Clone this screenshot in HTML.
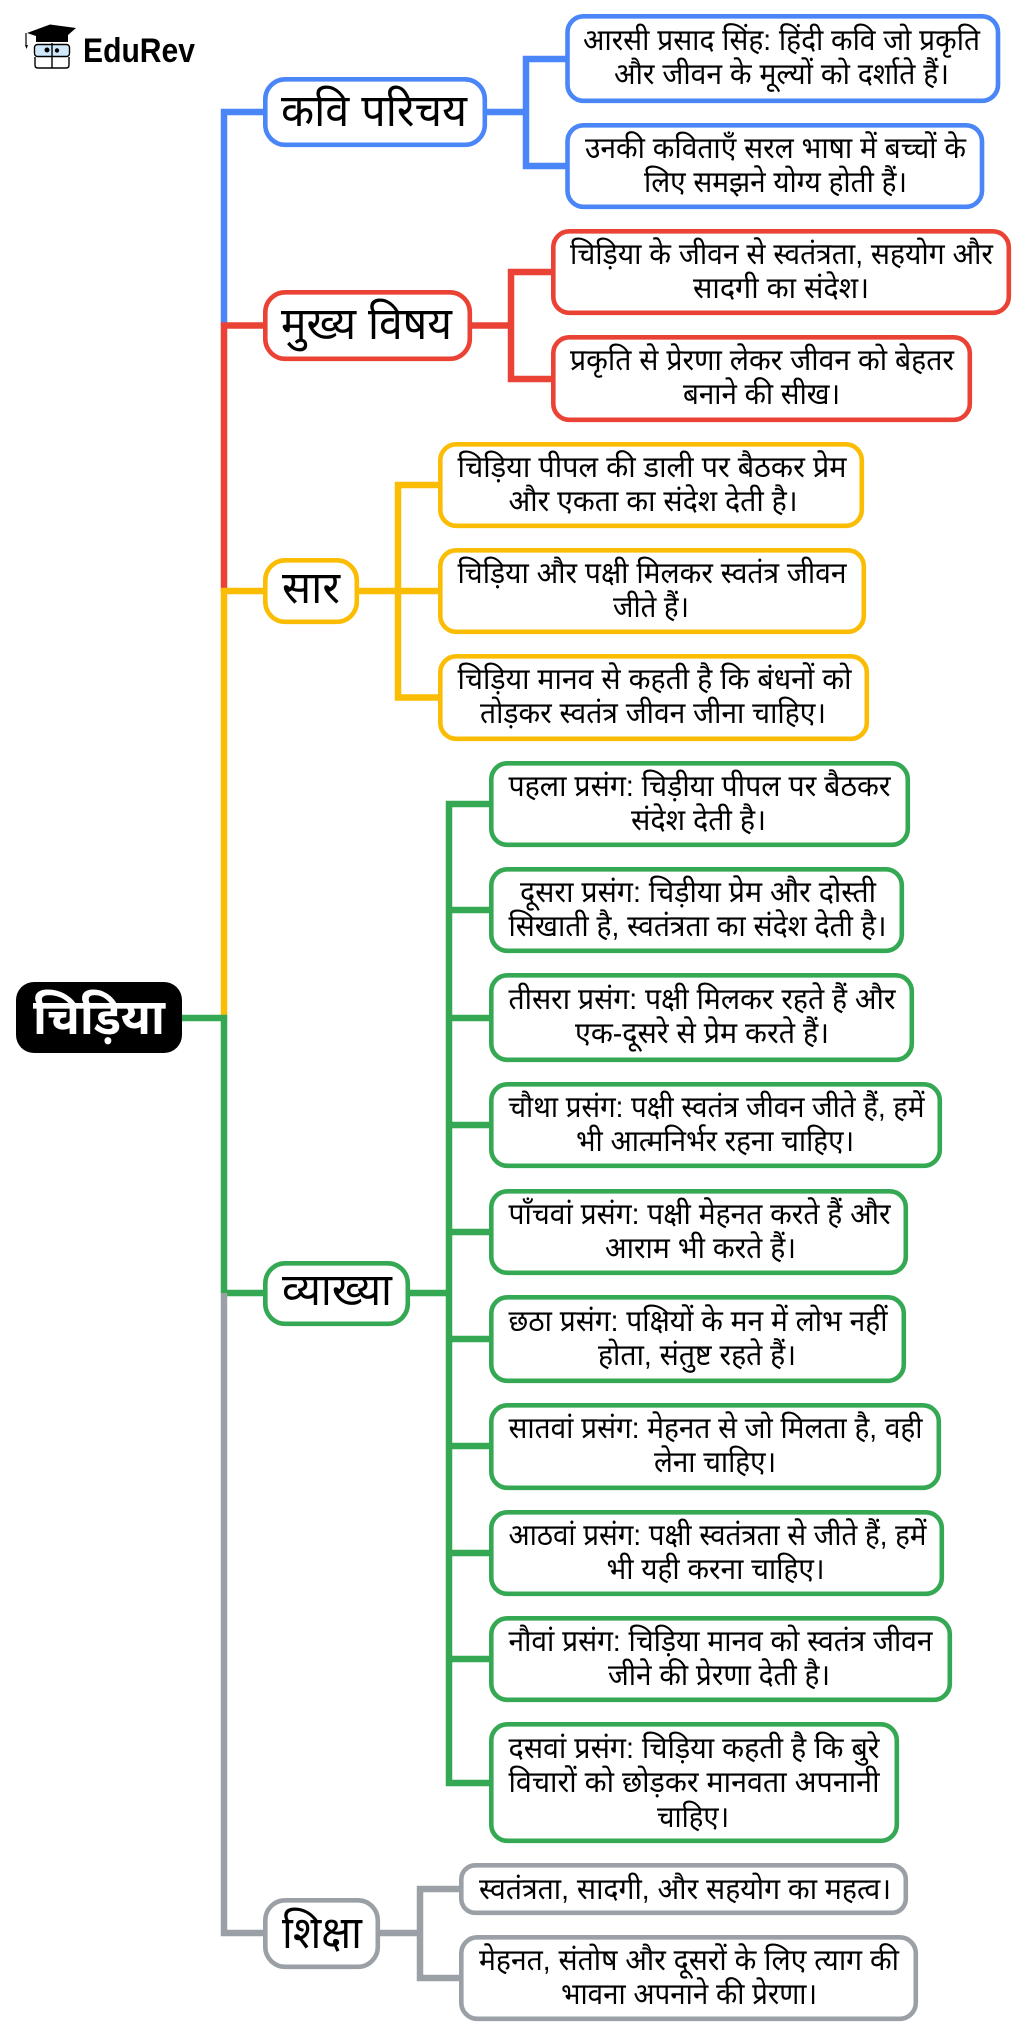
<!DOCTYPE html>
<html><head><meta charset="utf-8"><style>
html,body{margin:0;padding:0;background:#fff;width:1024px;height:2035px;overflow:hidden}
svg{display:block}
text{font-family:"Liberation Sans","Noto Sans Devanagari","Lohit Devanagari","FreeSans","DejaVu Sans",sans-serif;fill:#000}
.l{font-size:30px}
.b{font-size:45px}
rect{fill:#fff;stroke-width:4.600}
path{fill:none;stroke-width:6.5;stroke-linejoin:miter}
</style></head><body>
<svg xmlns="http://www.w3.org/2000/svg" width="1024" height="2035" viewBox="0 0 1024 2035">
<!-- logo -->
<g>
<path d="M26 33 V45" stroke="#000" style="stroke-width:1.2"/>
<polygon points="25,45 28,45 26.500,49" fill="#000"/>
<polygon points="27,33 50,24.500 76,28 68,35 68,42 36,42 36,36" fill="#000"/>
<rect x="34.500" y="44.500" width="35" height="12" rx="3" style="fill:#cfe8fb;stroke:#000;stroke-width:1.4"/>
<path d="M35 57 V65 Q35 68 38 68 H52 V43 M69 57 V65 Q69 68 66 68 H52" stroke="#000" style="stroke-width:1.4"/>
<circle cx="47" cy="50" r="2.500" fill="#000"/><circle cx="57" cy="50.500" r="2.200" fill="#000"/>
<text x="83" y="62" font-size="34" font-weight="700" textLength="112" lengthAdjust="spacingAndGlyphs">EduRev</text>
</g>
<!-- trunk -->
<path d="M263 112 H224 V326" stroke="#4a86f7"/>
<path d="M263 325.500 H224 V592" stroke="#ea4335"/>
<path d="M263 591 H224 V1018" stroke="#fbbc04"/>
<path d="M182 1018 H224 V1293 M224 1293 H263" stroke="#34a853"/>
<path d="M263 1933 H224 V1293" stroke="#9aa0a6"/>
<!-- blue -->
<path d="M486 112 H526 M566 59 H526 V166 H566" stroke="#4a86f7"/>
<!-- red -->
<path d="M472 325.500 H511 M551 272 H511 V379 H551" stroke="#ea4335"/>
<!-- yellow -->
<path d="M359 591 H438 M438 485 H398 V697.500 H438" stroke="#fbbc04"/>
<!-- green -->
<path d="M410 1293 H449 M489 804 H449 V1783 H489 M449 910 H489 M449 1018 H489 M449 1125 H489 M449 1232 H489 M449 1339 H489 M449 1446 H489 M449 1553 H489 M449 1659 H489" stroke="#34a853"/>
<!-- gray -->
<path d="M380 1933 H420 M459 1889 H420 V1978 H459" stroke="#9aa0a6"/>

<!-- root -->
<rect x="16" y="982" width="166" height="71" rx="18" style="fill:#000;stroke:none"/>
<text x="33" y="1034" font-size="50" font-weight="700" textLength="132" lengthAdjust="spacingAndGlyphs" style="fill:#fff">चिड़िया</text>

<!-- branches -->
<g stroke="#4a86f7">
<rect x="265.300" y="79.300" width="219.500" height="65.500" rx="20"/>
<rect x="567.500" y="16.300" width="430.500" height="84.500" rx="16"/>
<rect x="567.500" y="125.300" width="414.500" height="81.500" rx="16"/>
</g>
<text class="b" x="281" y="126" textLength="186" lengthAdjust="spacingAndGlyphs">कवि परिचय</text>
<text class="l" x="583" y="50" textLength="397" lengthAdjust="spacingAndGlyphs">आरसी प्रसाद सिंह: हिंदी कवि जो प्रकृति</text>
<text class="l" x="614" y="84" textLength="335" lengthAdjust="spacingAndGlyphs">और जीवन के मूल्यों को दर्शाते हैं।</text>
<text class="l" x="585" y="158" textLength="381" lengthAdjust="spacingAndGlyphs">उनकी कविताएँ सरल भाषा में बच्चों के</text>
<text class="l" x="644" y="192" textLength="263" lengthAdjust="spacingAndGlyphs">लिए समझने योग्य होती हैं।</text>

<g stroke="#ea4335">
<rect x="265.300" y="292.300" width="204.500" height="66.500" rx="20"/>
<rect x="553.300" y="231.300" width="455.500" height="81.500" rx="16"/>
<rect x="553.300" y="337.300" width="416.500" height="82.500" rx="16"/>
</g>
<text class="b" x="281" y="339" textLength="171" lengthAdjust="spacingAndGlyphs">मुख्य विषय</text>
<text class="l" x="570" y="264" textLength="423" lengthAdjust="spacingAndGlyphs">चिड़िया के जीवन से स्वतंत्रता, सहयोग और</text>
<text class="l" x="693" y="298" textLength="176" lengthAdjust="spacingAndGlyphs">सादगी का संदेश।</text>
<text class="l" x="570" y="370" textLength="384" lengthAdjust="spacingAndGlyphs">प्रकृति से प्रेरणा लेकर जीवन को बेहतर</text>
<text class="l" x="683" y="404" textLength="157" lengthAdjust="spacingAndGlyphs">बनाने की सीख।</text>

<g stroke="#fbbc04">
<rect x="265.300" y="560.300" width="91.500" height="61.500" rx="20"/>
<rect x="440.300" y="444.300" width="421.500" height="81.500" rx="16"/>
<rect x="440.300" y="550.300" width="423.500" height="81.500" rx="16"/>
<rect x="440.300" y="656.300" width="426.500" height="82.500" rx="16"/>
</g>
<text class="b" x="282" y="603" textLength="58" lengthAdjust="spacingAndGlyphs">सार</text>
<text class="l" x="457.500" y="477" textLength="389" lengthAdjust="spacingAndGlyphs">चिड़िया पीपल की डाली पर बैठकर प्रेम</text>
<text class="l" x="508.500" y="511" textLength="289" lengthAdjust="spacingAndGlyphs">और एकता का संदेश देती है।</text>
<text class="l" x="457.500" y="583" textLength="389" lengthAdjust="spacingAndGlyphs">चिड़िया और पक्षी मिलकर स्वतंत्र जीवन</text>
<text class="l" x="613" y="617" textLength="76" lengthAdjust="spacingAndGlyphs">जीते हैं।</text>
<text class="l" x="457.500" y="689" textLength="394" lengthAdjust="spacingAndGlyphs">चिड़िया मानव से कहती है कि बंधनों को</text>
<text class="l" x="480" y="723" textLength="346" lengthAdjust="spacingAndGlyphs">तोड़कर स्वतंत्र जीवन जीना चाहिए।</text>

<g stroke="#34a853">
<rect x="265.300" y="1263.300" width="142.500" height="60.500" rx="20"/>
<rect x="491.300" y="763.300" width="416.500" height="81.500" rx="16"/>
<rect x="491.300" y="869.300" width="410.500" height="81.500" rx="16"/>
<rect x="491.300" y="975.300" width="420.500" height="84.500" rx="16"/>
<rect x="491.300" y="1084.300" width="448.500" height="81.500" rx="16"/>
<rect x="491.300" y="1191.300" width="414.500" height="81.500" rx="16"/>
<rect x="491.300" y="1297.300" width="412.500" height="83.500" rx="16"/>
<rect x="491.300" y="1405.300" width="447.500" height="82.500" rx="16"/>
<rect x="491.300" y="1512.300" width="450.500" height="81.500" rx="16"/>
<rect x="491.300" y="1618.300" width="458.500" height="81.500" rx="16"/>
<rect x="491.300" y="1724.300" width="405.500" height="116.500" rx="16"/>
</g>
<text class="b" x="282" y="1305" textLength="110" lengthAdjust="spacingAndGlyphs">व्याख्या</text>
<text class="l" x="508.500" y="796" textLength="382" lengthAdjust="spacingAndGlyphs">पहला प्रसंग: चिड़ीया पीपल पर बैठकर</text>
<text class="l" x="631" y="830" textLength="135" lengthAdjust="spacingAndGlyphs">संदेश देती है।</text>
<text class="l" x="520" y="902" textLength="356" lengthAdjust="spacingAndGlyphs">दूसरा प्रसंग: चिड़ीया प्रेम और दोस्ती</text>
<text class="l" x="508.500" y="936" textLength="378" lengthAdjust="spacingAndGlyphs">सिखाती है, स्वतंत्रता का संदेश देती है।</text>
<text class="l" x="508.500" y="1009" textLength="387" lengthAdjust="spacingAndGlyphs">तीसरा प्रसंग: पक्षी मिलकर रहते हैं और</text>
<text class="l" x="575" y="1043" textLength="254" lengthAdjust="spacingAndGlyphs">एक-दूसरे से प्रेम करते हैं।</text>
<text class="l" x="508.500" y="1117" textLength="416" lengthAdjust="spacingAndGlyphs">चौथा प्रसंग: पक्षी स्वतंत्र जीवन जीते हैं, हमें</text>
<text class="l" x="576" y="1151" textLength="278" lengthAdjust="spacingAndGlyphs">भी आत्मनिर्भर रहना चाहिए।</text>
<text class="l" x="508.500" y="1224" textLength="382" lengthAdjust="spacingAndGlyphs">पाँचवां प्रसंग: पक्षी मेहनत करते हैं और</text>
<text class="l" x="605" y="1258" textLength="191" lengthAdjust="spacingAndGlyphs">आराम भी करते हैं।</text>
<text class="l" x="508.500" y="1331" textLength="379" lengthAdjust="spacingAndGlyphs">छठा प्रसंग: पक्षियों के मन में लोभ नहीं</text>
<text class="l" x="598" y="1365" textLength="198" lengthAdjust="spacingAndGlyphs">होता, संतुष्ट रहते हैं।</text>
<text class="l" x="508.500" y="1438" textLength="414" lengthAdjust="spacingAndGlyphs">सातवां प्रसंग: मेहनत से जो मिलता है, वही</text>
<text class="l" x="654" y="1472" textLength="122" lengthAdjust="spacingAndGlyphs">लेना चाहिए।</text>
<text class="l" x="508.500" y="1545" textLength="418" lengthAdjust="spacingAndGlyphs">आठवां प्रसंग: पक्षी स्वतंत्रता से जीते हैं, हमें</text>
<text class="l" x="606.500" y="1579" textLength="218" lengthAdjust="spacingAndGlyphs">भी यही करना चाहिए।</text>
<text class="l" x="508.500" y="1651" textLength="424" lengthAdjust="spacingAndGlyphs">नौवां प्रसंग: चिड़िया मानव को स्वतंत्र जीवन</text>
<text class="l" x="608" y="1685" textLength="222" lengthAdjust="spacingAndGlyphs">जीने की प्रेरणा देती है।</text>
<text class="l" x="508.500" y="1758" textLength="371" lengthAdjust="spacingAndGlyphs">दसवां प्रसंग: चिड़िया कहती है कि बुरे</text>
<text class="l" x="508.500" y="1792" textLength="371" lengthAdjust="spacingAndGlyphs">विचारों को छोड़कर मानवता अपनानी</text>
<text class="l" x="657" y="1827" textLength="72" lengthAdjust="spacingAndGlyphs">चाहिए।</text>

<g stroke="#9aa0a6">
<rect x="265.300" y="1900.300" width="112.500" height="66.500" rx="20"/>
<rect x="461.300" y="1865.300" width="444.500" height="47.500" rx="14"/>
<rect x="461.300" y="1937.300" width="454.500" height="81.500" rx="16"/>
</g>
<text class="b" x="282" y="1948" textLength="80" lengthAdjust="spacingAndGlyphs">शिक्षा</text>
<text class="l" x="479" y="1899" textLength="412" lengthAdjust="spacingAndGlyphs">स्वतंत्रता, सादगी, और सहयोग का महत्व।</text>
<text class="l" x="479" y="1970" textLength="420" lengthAdjust="spacingAndGlyphs">मेहनत, संतोष और दूसरों के लिए त्याग की</text>
<text class="l" x="561" y="2004" textLength="256" lengthAdjust="spacingAndGlyphs">भावना अपनाने की प्रेरणा।</text>
</svg>
</body></html>
